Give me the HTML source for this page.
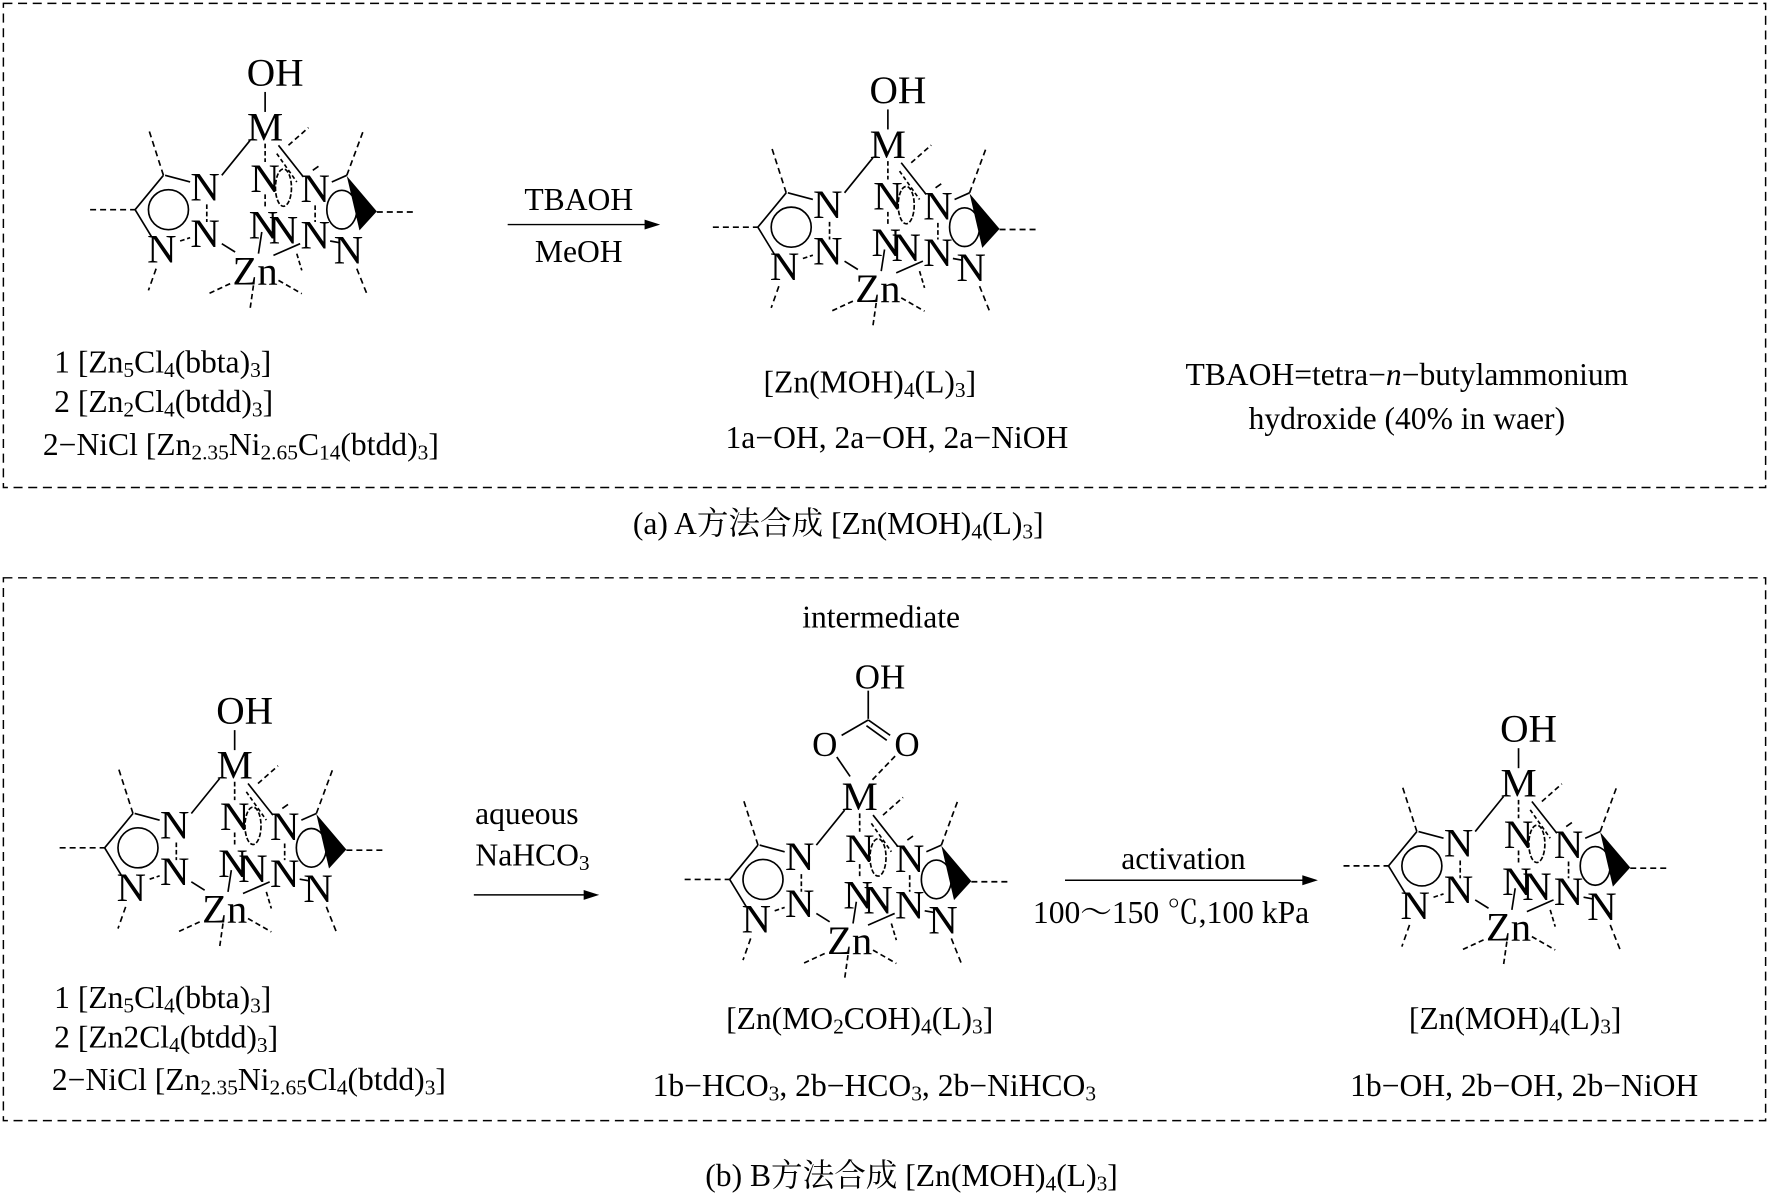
<!DOCTYPE html>
<html><head><meta charset="utf-8"><style>
html,body{margin:0;padding:0;background:#fff;}
svg{display:block;}
text{font-family:"Liberation Serif","Noto Serif CJK SC",serif;fill:#000;}
</style></head><body>
<svg width="1769" height="1203" viewBox="0 0 1568 1066" preserveAspectRatio="none" xmlns="http://www.w3.org/2000/svg">
<defs>
<g id="mol" stroke="#000" stroke-width="5" fill="none">
  <g font-size="122" stroke="none" fill="#000" text-anchor="middle">
    <text x="585" y="270">M</text>
    <text x="405" y="450">N</text>
    <text x="405" y="590">N</text>
    <text x="275" y="637">N</text>
    <text x="585" y="425">N</text>
    <text x="580" y="565">N</text>
    <text x="640" y="580">N</text>
    <text x="735" y="455">N</text>
    <text x="735" y="595">N</text>
    <text x="835" y="640">N</text>
    <text x="555" y="702">Zn</text>
  </g>
  <line x1="285" y1="375" x2="360" y2="395"/>
  <line x1="280" y1="375" x2="195" y2="478"/>
  <line x1="195" y1="478" x2="245" y2="560"/>
  <line x1="330" y1="572" x2="360" y2="562" stroke-dasharray="14 8"/>
  <line x1="410" y1="462" x2="410" y2="515" stroke-dasharray="14 8"/>
  <circle cx="295" cy="478" r="60"/>
  <line x1="60" y1="478" x2="195" y2="478" stroke-dasharray="18 12"/>
  <line x1="280" y1="375" x2="235" y2="235" stroke-dasharray="18 12"/>
  <line x1="258" y1="655" x2="235" y2="720" stroke-dasharray="18 12"/>
  <line x1="540" y1="270" x2="455" y2="375"/>
  <line x1="455" y1="580" x2="495" y2="605"/>
  <line x1="585" y1="280" x2="585" y2="335" stroke-dasharray="14 8"/>
  <line x1="585" y1="432" x2="585" y2="475" stroke-dasharray="14 8"/>
  <ellipse cx="640" cy="412" rx="24" ry="56" stroke-dasharray="14 6"/>
  <line x1="625" y1="285" x2="700" y2="380"/>
  <line x1="620" y1="310" x2="680" y2="395" stroke-dasharray="12 8"/>
  <line x1="655" y1="285" x2="715" y2="232" stroke-dasharray="16 10"/>
  <line x1="745" y1="348" x2="728" y2="360"/>
  <line x1="830" y1="375" x2="785" y2="395"/>
  <ellipse cx="815" cy="478" rx="45" ry="58"/>
  <polygon points="830,377 920,483 868,540" fill="#000" stroke="none"/>
  <line x1="735" y1="465" x2="735" y2="515" stroke-dasharray="14 8"/>
  <line x1="780" y1="572" x2="808" y2="577"/>
  <line x1="830" y1="375" x2="880" y2="240" stroke-dasharray="18 12"/>
  <line x1="920" y1="485" x2="1035" y2="485" stroke-dasharray="18 12"/>
  <line x1="860" y1="655" x2="890" y2="730" stroke-dasharray="18 12"/>
  <line x1="565" y1="610" x2="575" y2="545"/>
  <line x1="610" y1="615" x2="690" y2="580"/>
  <line x1="680" y1="610" x2="695" y2="660" stroke-dasharray="14 8"/>
  <line x1="480" y1="700" x2="415" y2="730" stroke-dasharray="16 10"/>
  <line x1="550" y1="705" x2="540" y2="775" stroke-dasharray="16 10"/>
  <line x1="625" y1="690" x2="695" y2="730" stroke-dasharray="16 10"/>
</g>
<g id="oh" stroke="#000" stroke-width="5">
  <text x="615" y="105" font-size="118" text-anchor="middle" stroke="none">OH</text>
  <line x1="585" y1="125" x2="585" y2="185"/>
</g>
</defs>

<rect x="3" y="3" width="1562" height="429" fill="none" stroke="#000" stroke-width="1.3" stroke-dasharray="8 5"/>
<rect x="3" y="512" width="1562" height="481" fill="none" stroke="#000" stroke-width="1.3" stroke-dasharray="8 5"/>

<g transform="translate(235,112.5) scale(0.2955) translate(-585,-230)"><use href="#mol"/><use href="#oh"/></g>
<g transform="translate(787,128) scale(0.2955) translate(-585,-230)"><use href="#mol"/><use href="#oh"/></g>
<g transform="translate(208,678) scale(0.2955) translate(-585,-230)"><use href="#mol"/><use href="#oh"/></g>
<g transform="translate(762,706) scale(0.2955) translate(-585,-230)"><use href="#mol"/></g>
<g transform="translate(1346,694) scale(0.2955) translate(-585,-230)"><use href="#mol"/><use href="#oh"/></g>

<g stroke="#000" stroke-width="1.5" font-size="31">
  <text x="780" y="610" text-anchor="middle" stroke="none">OH</text>
  <text x="731" y="670" text-anchor="middle" stroke="none">O</text>
  <text x="804" y="670" text-anchor="middle" stroke="none">O</text>
  <line x1="769.6" y1="612" x2="769.6" y2="637"/>
  <line x1="769.6" y1="638" x2="746" y2="651.6"/>
  <line x1="769.6" y1="638" x2="789" y2="651.6"/>
  <line x1="768" y1="643" x2="786" y2="656"/>
  <line x1="741.7" y1="670.8" x2="753.5" y2="688"/>
  <line x1="793.4" y1="670" x2="772.8" y2="691.5" stroke-dasharray="5 3"/>
</g>

<g font-size="28">
  <text x="48" y="330">1 [Zn<tspan font-size="19" dy="4">5</tspan><tspan dy="-4">Cl</tspan><tspan font-size="19" dy="4">4</tspan><tspan dy="-4">(bbta)</tspan><tspan font-size="19" dy="4">3</tspan><tspan dy="-4">]</tspan></text>
  <text x="48" y="365">2 [Zn<tspan font-size="19" dy="4">2</tspan><tspan dy="-4">Cl</tspan><tspan font-size="19" dy="4">4</tspan><tspan dy="-4">(btdd)</tspan><tspan font-size="19" dy="4">3</tspan><tspan dy="-4">]</tspan></text>
  <text x="38" y="403">2−NiCl [Zn<tspan font-size="19" dy="4">2.35</tspan><tspan dy="-4">Ni</tspan><tspan font-size="19" dy="4">2.65</tspan><tspan dy="-4">C</tspan><tspan font-size="19" dy="4">14</tspan><tspan dy="-4">(btdd)</tspan><tspan font-size="19" dy="4">3</tspan><tspan dy="-4">]</tspan></text>

  <text x="513" y="186" text-anchor="middle">TBAOH</text>
  <text x="513" y="232" text-anchor="middle">MeOH</text>
  <text x="771" y="348" text-anchor="middle">[Zn(MOH)<tspan font-size="19" dy="4">4</tspan><tspan dy="-4">(L)</tspan><tspan font-size="19" dy="4">3</tspan><tspan dy="-4">]</tspan></text>
  <text x="795" y="397" text-anchor="middle">1a−OH, 2a−OH, 2a−NiOH</text>
  <text x="1247" y="341" text-anchor="middle">TBAOH=tetra−<tspan font-style="italic">n</tspan>−butylammonium</text>
  <text x="1247" y="380" text-anchor="middle">hydroxide (40% in waer)</text>
  <text x="743" y="473" text-anchor="middle">(a)  A方法合成 [Zn(MOH)<tspan font-size="19" dy="4">4</tspan><tspan dy="-4">(L)</tspan><tspan font-size="19" dy="4">3</tspan><tspan dy="-4">]</tspan></text>

  <text x="781" y="556" text-anchor="middle">intermediate</text>
  <text x="467" y="730" text-anchor="middle">aqueous</text>
  <text x="472" y="767" text-anchor="middle">NaHCO<tspan font-size="19" dy="4">3</tspan></text>
  <text x="1049" y="770" text-anchor="middle">activation</text>
  <text x="1038" y="818" text-anchor="middle">100〜150 ℃,100 kPa</text>

  <text x="48" y="893">1 [Zn<tspan font-size="19" dy="4">5</tspan><tspan dy="-4">Cl</tspan><tspan font-size="19" dy="4">4</tspan><tspan dy="-4">(bbta)</tspan><tspan font-size="19" dy="4">3</tspan><tspan dy="-4">]</tspan></text>
  <text x="48" y="928">2 [Zn2Cl<tspan font-size="19" dy="4">4</tspan><tspan dy="-4">(btdd)</tspan><tspan font-size="19" dy="4">3</tspan><tspan dy="-4">]</tspan></text>
  <text x="46" y="966">2−NiCl [Zn<tspan font-size="19" dy="4">2.35</tspan><tspan dy="-4">Ni</tspan><tspan font-size="19" dy="4">2.65</tspan><tspan dy="-4">Cl</tspan><tspan font-size="19" dy="4">4</tspan><tspan dy="-4">(btdd)</tspan><tspan font-size="19" dy="4">3</tspan><tspan dy="-4">]</tspan></text>

  <text x="762" y="912" text-anchor="middle">[Zn(MO<tspan font-size="19" dy="4">2</tspan><tspan dy="-4">COH)</tspan><tspan font-size="19" dy="4">4</tspan><tspan dy="-4">(L)</tspan><tspan font-size="19" dy="4">3</tspan><tspan dy="-4">]</tspan></text>
  <text x="775" y="971" text-anchor="middle">1b−HCO<tspan font-size="19" dy="4">3</tspan><tspan dy="-4">, 2b−HCO</tspan><tspan font-size="19" dy="4">3</tspan><tspan dy="-4">, 2b−NiHCO</tspan><tspan font-size="19" dy="4">3</tspan></text>
  <text x="1343" y="912" text-anchor="middle">[Zn(MOH)<tspan font-size="19" dy="4">4</tspan><tspan dy="-4">(L)</tspan><tspan font-size="19" dy="4">3</tspan><tspan dy="-4">]</tspan></text>
  <text x="1351" y="971" text-anchor="middle">1b−OH, 2b−OH, 2b−NiOH</text>
  <text x="808" y="1051" text-anchor="middle">(b)  B方法合成 [Zn(MOH)<tspan font-size="19" dy="4">4</tspan><tspan dy="-4">(L)</tspan><tspan font-size="19" dy="4">3</tspan><tspan dy="-4">]</tspan></text>
</g>

<g stroke="#000" stroke-width="1.3" fill="#000">
  <line x1="450" y1="199" x2="576" y2="199"/>
  <polygon points="583,199 572,195.5 572,202.5"/>
  <line x1="420" y1="793" x2="522" y2="793"/>
  <polygon points="529,793 518,789.5 518,796.5"/>
  <line x1="944" y1="780" x2="1159" y2="780"/>
  <polygon points="1166,780 1155,776.5 1155,783.5"/>
</g>
</svg>
</body></html>
